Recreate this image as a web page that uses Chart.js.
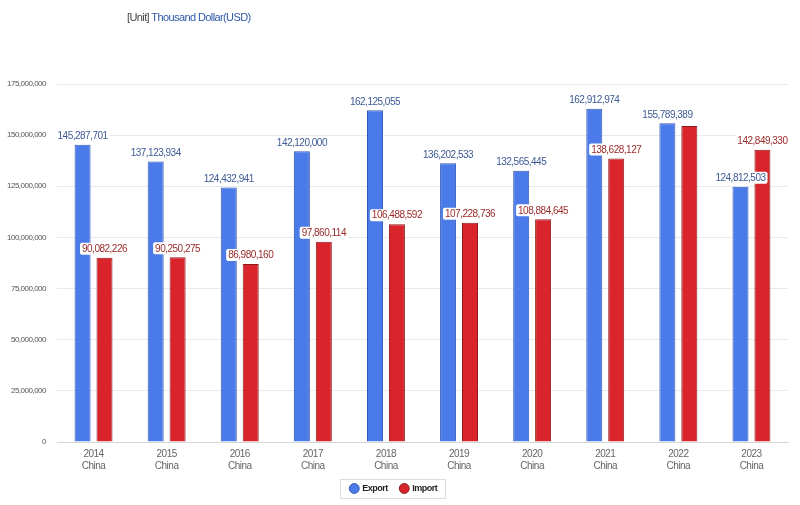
<!DOCTYPE html>
<html lang="en">
<head>
    <meta charset="UTF-8">
    <title>China Export / Import</title>
    <script src="https://cdn.jsdelivr.net/npm/chart.js"></script>
    <style>
body {
    margin: 0;
    background: #fff;
}
.wrap {
    position: relative;
    width: 800px;
    height: 505px;
}
.unit {
    position: absolute;
    left: 127px;
    top: 11px;
    font-family: "Liberation Sans", sans-serif;
    font-size: 11px;
    letter-spacing: -0.6px;
    color: #444;
}
.unit b {
    font-weight: normal;
    color: #2e5aa8;
}
    </style>
</head>
<body>
<div class="wrap">
    <div class="unit">[Unit] <b>Thousand Dollar(USD)</b></div>
    <canvas id="tradeChart" width="800" height="505"></canvas>
</div>
<script>
const FONT = '"Liberation Sans", sans-serif';

// dados
const years = ['2014', '2015', '2016', '2017', '2018', '2019', '2020', '2021', '2022', '2023'];
const region = 'China';
const exportVals = [145287701, 137123934, 124432941, 142120000, 162125055, 136202533, 132565445, 162912974, 155789389, 124812503];
const importVals = [90082226, 90250275, 86980160, 97860114, 106488592, 107228736, 108884645, 138628127, 154500000, 142849330];
const yTicks = [0, 25000000, 50000000, 75000000, 100000000, 125000000, 150000000, 175000000];

const fmt = v => v.toLocaleString('en-US');

// fonte mais estreita: aperta o espaçamento das letras
const tightText = {
    id: 'tightText',
    beforeUpdate(chart) { chart.ctx.letterSpacing = '-0.5px'; },
    beforeDraw(chart) { chart.ctx.letterSpacing = '-0.5px'; }
};

// rótulos em cima das barras (esconde os que se sobrepõem)
const valueLabels = {
    id: 'valueLabels',
    afterDatasetsDraw(chart) {
        const ctx = chart.ctx;
        const placed = [];
        ctx.save();
        ctx.font = '10px ' + FONT;
        ctx.textAlign = 'center';
        ctx.textBaseline = 'middle';
        chart.data.datasets.forEach((ds, di) => {
            chart.getDatasetMeta(di).data.forEach((bar, i) => {
                const txt = fmt(ds.data[i]);
                const w = ctx.measureText(txt).width + 4;
                const h = 12;
                const cx = bar.x, cy = bar.y - 9;
                const box = { l: cx - w / 2, r: cx + w / 2, t: cy - h / 2, b: cy + h / 2 };
                if (placed.some(p => box.l < p.r && box.r > p.l && box.t < p.b && box.b > p.t)) return;
                placed.push(box);
                ctx.fillStyle = '#fff';
                ctx.beginPath();
                ctx.roundRect(box.l, box.t, w, h, 2);
                ctx.fill();
                ctx.fillStyle = ds.labelColor;
                ctx.fillText(txt, cx, cy + 0.5);
            });
        });
        ctx.restore();
    }
};

// moldura da legenda
const legendFrame = {
    id: 'legendFrame',
    afterDraw(chart) {
        const boxes = chart.legend.legendHitBoxes;
        if (!boxes || !boxes.length) return;
        const l = Math.min(...boxes.map(b => b.left)) - 11;
        const r = Math.max(...boxes.map(b => b.left + b.width)) + 7;
        const t = Math.round(boxes[0].top + boxes[0].height / 2) - 10;
        const ctx = chart.ctx;
        ctx.save();
        ctx.strokeStyle = '#dcdcdc';
        ctx.lineWidth = 1;
        ctx.strokeRect(Math.round(l) + 0.5, t + 0.5, Math.round(r - l), 19);
        ctx.restore();
    }
};

new Chart(document.getElementById('tradeChart'), {
    type: 'bar',
    data: {
        labels: years.map(y => [y, region]),
        datasets: [
            {
                label: 'Export',
                data: exportVals,
                backgroundColor: '#4a7be8',
                borderColor: '#3559b8',
                borderWidth: 1,
                labelColor: '#3d5a94'
            },
            {
                label: 'Import',
                data: importVals,
                backgroundColor: '#d9242b',
                borderColor: '#8c1c1c',
                borderWidth: 1,
                labelColor: '#9a2a2a'
            }
        ]
    },
    options: {
        responsive: false,
        animation: false,
        layout: { padding: { top: 84, left: 0, right: 12, bottom: 2 } },
        datasets: { bar: { categoryPercentage: 0.6, barPercentage: 0.73 } },
        scales: {
            x: {
                grid: { display: false },
                border: { color: '#d6d6d6' },
                ticks: { color: '#666', font: { family: FONT, size: 10 }, padding: -2, maxRotation: 0 },
                afterFit: s => { s.height = 29; }
            },
            y: {
                min: 0,
                max: 175000000,
                afterBuildTicks: s => { s.ticks = yTicks.map(v => ({ value: v })); },
                grid: { color: '#e9e9e9', drawTicks: false },
                border: { display: false },
                ticks: { color: '#555', font: { family: FONT, size: 8 }, padding: 11, callback: v => fmt(v) },
                afterFit: s => { s.width = 57; }
            }
        },
        plugins: {
            legend: {
                position: 'bottom',
                maxHeight: 34,
                labels: {
                    usePointStyle: true,
                    pointStyle: 'circle',
                    boxWidth: 7,
                    boxHeight: 7,
                    padding: 13,
                    color: '#222',
                    font: { family: FONT, size: 9, weight: 'bold' }
                }
            },
            tooltip: { enabled: false }
        }
    },
    plugins: [tightText, valueLabels, legendFrame]
});
</script>
</body>
</html>
